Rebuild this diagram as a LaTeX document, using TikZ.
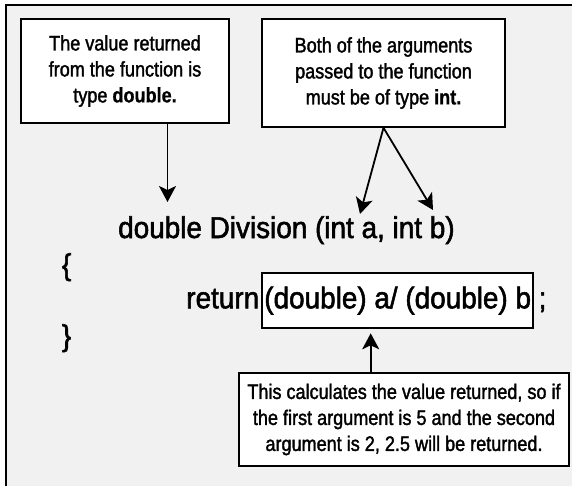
\documentclass[tikz,border=0pt]{standalone}
\usepackage{fontspec}
\setmainfont{Liberation Sans}
\newfontfamily\smallf{Liberation Sans}[FakeStretch=0.86, UprightFeatures={FakeBold=1.6}, BoldFeatures={FakeBold=0.6}]
\newfontfamily\bigf{Liberation Sans}[FakeStretch=0.93, UprightFeatures={FakeBold=1.8}]
\usetikzlibrary{arrows.meta}
\definecolor{bggray}{HTML}{F1F1F1}
\begin{document}
\begin{tikzpicture}[x=1pt,y=-1pt,
  note/.style={draw=black, line width=1.6pt, fill=white, align=center, inner sep=0pt,
    font=\smallf\fontsize{21}{26}\selectfont},
  code/.style={font=\bigf\fontsize{30}{36}\selectfont, inner sep=0pt},
  arr/.style={line width=1.8pt, -{Stealth[length=16pt,width=17pt,inset=4pt]}}]
\useasboundingbox (0,0) rectangle (572,486);
\fill[white] (0,0) rectangle (572,486);
\fill[bggray] (6,5) rectangle (572,486);
\draw[line width=2.2pt] (6,486) -- (6,5) -- (572,5);

\node[note, minimum width=208pt, minimum height=104pt] (box1) at (125,71)
  {The value returned\\from the function is\\type \textbf{double.}};
\node[note, minimum width=243pt, minimum height=108pt] (box2) at (383.5,73)
  {Both of the arguments\\passed to the function\\must be of type \textbf{int.}};

\node[code, anchor=base west] (sig) at (118,238) {double Division (int a, int b)};
\node[code, anchor=base west] (lbrace) at (61.7,275) {\{};
\node[code, draw, line width=1.6pt, fill=white, minimum width=271pt, minimum height=55pt] (box3) at (397.7,300.5) {(double) a/ (double) b};
\node[code, anchor=base east] (ret) at ([xshift=-2pt]box3.base west) {return};
\node[code, anchor=base west] (semi) at ([xshift=4.5pt]box3.base east) {;};
\node[code, anchor=base west] (rbrace) at (61.7,346) {\}};

\node[note, minimum width=330pt, minimum height=93pt] (box4) at (404,419.5)
  {This calculates the value returned, so if\\the first argument is 5 and the second\\argument is 2, 2.5 will be returned.};

\coordinate (t1) at (167.5,202);
\coordinate (t2a) at (360,214);
\coordinate (t2b) at (433,210);
\coordinate (t3) at (370.7,333.3);
\draw[arr] (box1.south -| t1) -- (t1);
\draw[arr] (box2.south) -- (t2a);
\draw[arr] (box2.south) -- (t2b);
\draw[arr] (box4.north -| t3) -- (t3);
\end{tikzpicture}
\end{document}
